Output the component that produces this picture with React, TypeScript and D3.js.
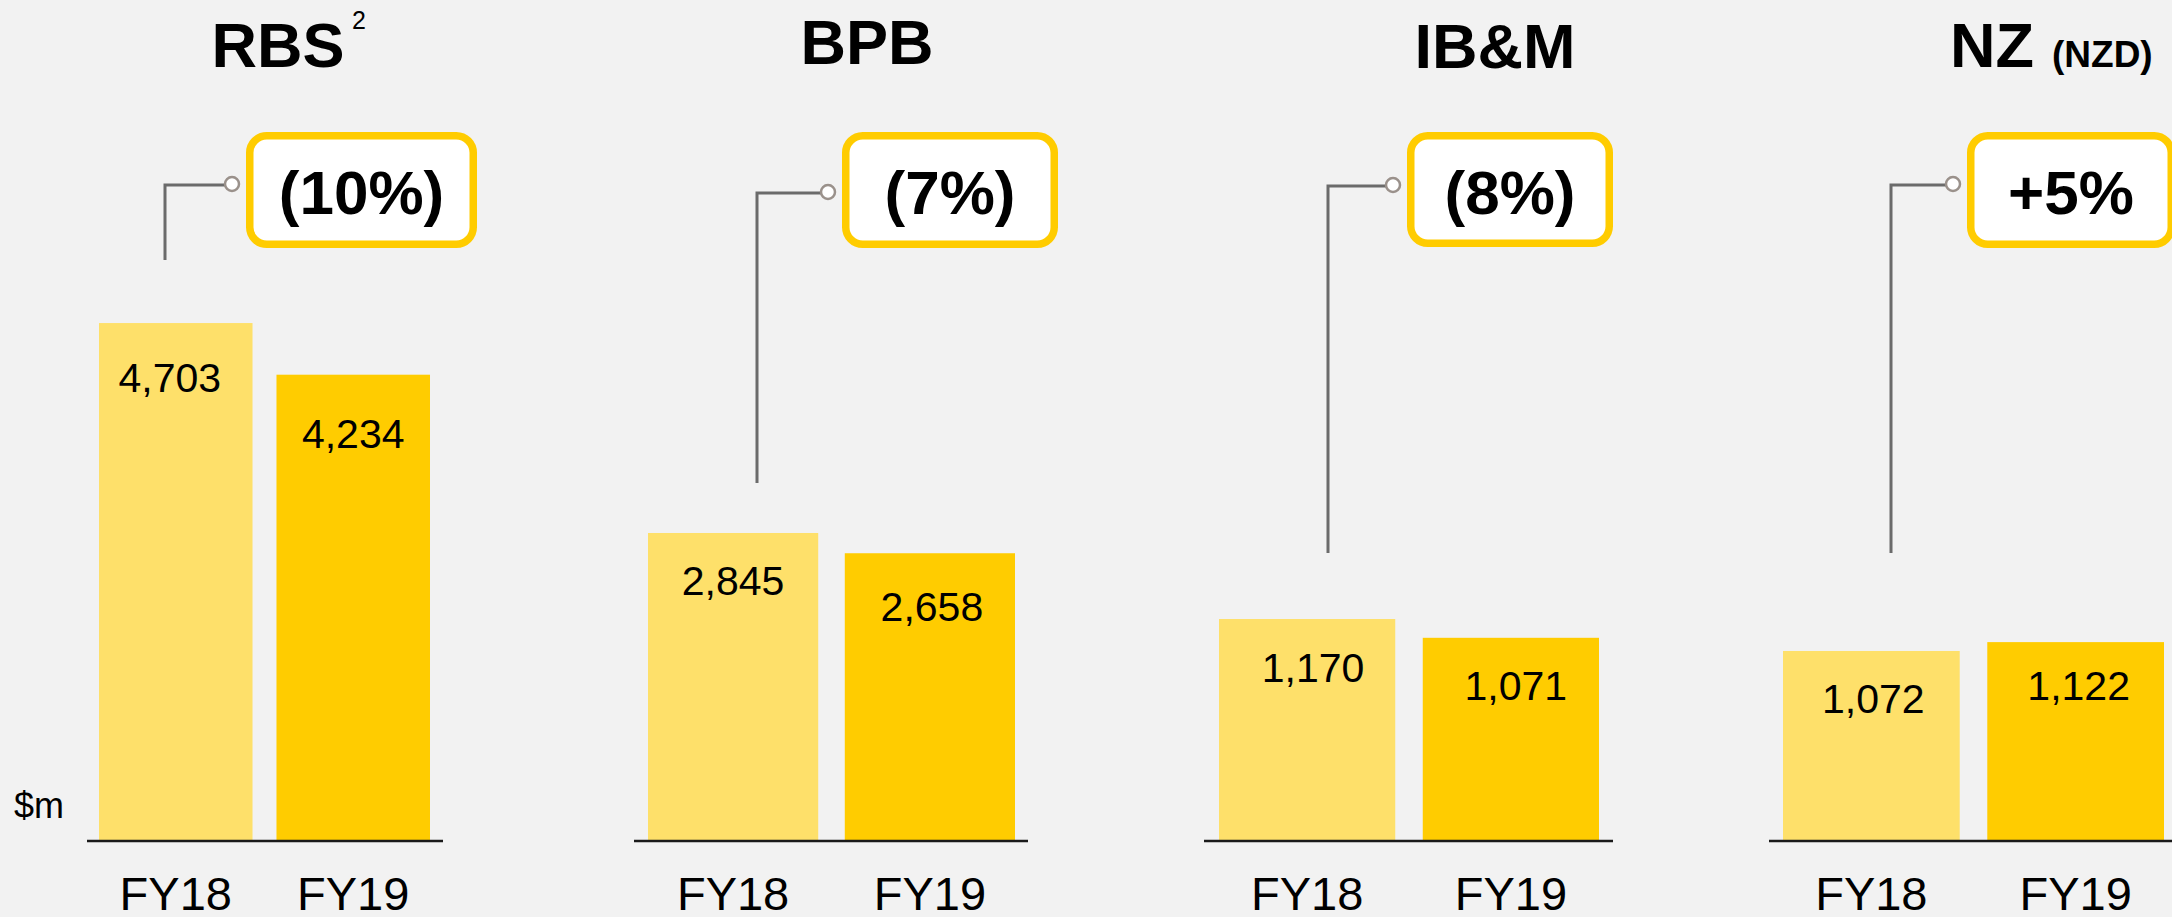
import React, { useEffect } from "react";
import * as d3 from "d3";

// ---- data ----
const segments = ["RBS", "BPB", "IB&M", "NZ"];
const segmentSuperscripts = ["2", "", "", ""];
const segmentSuffixes = ["", "", "", "(NZD)"];
const periods = ["FY18", "FY19"];
const fy18Values = [4703, 2845, 1170, 1072];
const fy19Values = [4234, 2658, 1071, 1122];
const changeLabels = ["(10%)", "(7%)", "(8%)", "+5%"];
const axisMax = [5902, 6004, 3426, 3667];
const unitLabel = "$m";

// ---- layout ----
const W = 2172;
const H = 917;
const BASE_Y = 841;
const PLOT_H = 650;
const FONT = "'Liberation Sans', Arial, Helvetica, sans-serif";
const BG = "#f2f2f2";
const COLORS = ["#fee06a", "#ffcc00"];
const GOLD = "#ffcc00";

const panels = [
  { barL: 99, barR: 430, baseL: 87, baseR: 443, titleX: 278, titleY: 67, box: [246, 477, 132, 248], conX: 165, conY: 185, conBottom: 260, lblDy: [69, 73], lblDx: [-6, 0] },
  { barL: 648, barR: 1015, baseL: 634, baseR: 1028, titleX: 867, titleY: 64, box: [842, 1058, 132, 248], conX: 757, conY: 193, conBottom: 483, lblDy: [62, 68], lblDx: [0, 2] },
  { barL: 1219, barR: 1599, baseL: 1204, baseR: 1613, titleX: 1495, titleY: 68, box: [1407, 1613, 132, 247], conX: 1328, conY: 186, conBottom: 553, lblDy: [63, 62], lblDx: [6, 5] },
  { barL: 1783, barR: 2164, baseL: 1769, baseR: 2180, titleX: 1992, titleY: 67, box: [1967, 2175, 132, 248], conX: 1891, conY: 185, conBottom: 553, lblDy: [62, 58], lblDx: [2, 3] },
];

const fmt = d3.format(",");

export default function App() {
  useEffect(() => {
    document.body.style.margin = "0";
    document.body.style.background = BG;
  }, []);

  return (
    <svg width={W} height={H} style={{ display: "block", background: BG }} fontFamily={FONT}>
      <rect x={0} y={0} width={W} height={H} fill={BG} />
      {segments.map((seg, i) => {
        const p = panels[i];
        const x = d3.scaleBand<string>().domain(periods).range([p.barL, p.barR]).paddingInner(0.135).paddingOuter(0);
        const y = d3.scaleLinear().domain([0, axisMax[i]]).range([BASE_Y, BASE_Y - PLOT_H]);
        const vals = [fy18Values[i], fy19Values[i]];
        const [bx0, bx1, by0, by1] = p.box;
        const boxCy = (by0 + by1) / 2;
        const circR = 7;
        const circCx = bx0 - 14;
        return (
          <g key={seg}>
            {/* title */}
            <text x={p.titleX} y={p.titleY} textAnchor="middle" fontSize={63} fontWeight="bold" fill="#000">
              {seg}
            </text>
            {segmentSuperscripts[i] && (
              <text x={p.titleX + 74} y={29} fontSize={25} fill="#000">
                {segmentSuperscripts[i]}
              </text>
            )}
            {segmentSuffixes[i] && (
              <text x={p.titleX + 60} y={p.titleY} fontSize={37} fontWeight="bold" fill="#000">
                {segmentSuffixes[i]}
              </text>
            )}

            {/* connector */}
            <path
              d={`M${p.conX},${p.conBottom} L${p.conX},${p.conY} L${circCx - circR},${p.conY}`}
              fill="none"
              stroke="#6b6b6b"
              strokeWidth={3}
            />
            <circle cx={circCx} cy={p.conY - 1} r={circR} fill="#fff" stroke="#9a918b" strokeWidth={2.5} />

            {/* change box */}
            <rect
              x={bx0 + 3.75}
              y={by0 + 3.75}
              width={bx1 - bx0 - 7.5}
              height={by1 - by0 - 7.5}
              rx={17}
              ry={17}
              fill="#fff"
              stroke={GOLD}
              strokeWidth={7.5}
            />
            <text x={(bx0 + bx1) / 2} y={boxCy + 24} textAnchor="middle" fontSize={62} fontWeight="bold" fill="#000">
              {changeLabels[i]}
            </text>

            {/* bars */}
            {periods.map((per, j) => (
              <rect
                key={per}
                x={x(per)}
                y={y(vals[j])}
                width={x.bandwidth()}
                height={BASE_Y - y(vals[j])}
                fill={COLORS[j]}
              />
            ))}
            {/* value labels */}
            {periods.map((per, j) => (
              <text
                key={per + "-v"}
                x={(x(per) as number) + x.bandwidth() / 2 + p.lblDx[j]}
                y={y(vals[j]) + p.lblDy[j]}
                textAnchor="middle"
                fontSize={41}
                fill="#000"
              >
                {fmt(vals[j])}
              </text>
            ))}

            {/* baseline */}
            <line x1={p.baseL} x2={p.baseR} y1={BASE_Y} y2={BASE_Y} stroke="#1a1a1a" strokeWidth={2.5} />

            {/* category labels */}
            {periods.map((per) => (
              <text
                key={per + "-c"}
                x={(x(per) as number) + x.bandwidth() / 2}
                y={910}
                textAnchor="middle"
                fontSize={47}
                fill="#000"
              >
                {per}
              </text>
            ))}
          </g>
        );
      })}
      <text x={14} y={818} fontSize={36} fill="#000">
        {unitLabel}
      </text>
    </svg>
  );
}
